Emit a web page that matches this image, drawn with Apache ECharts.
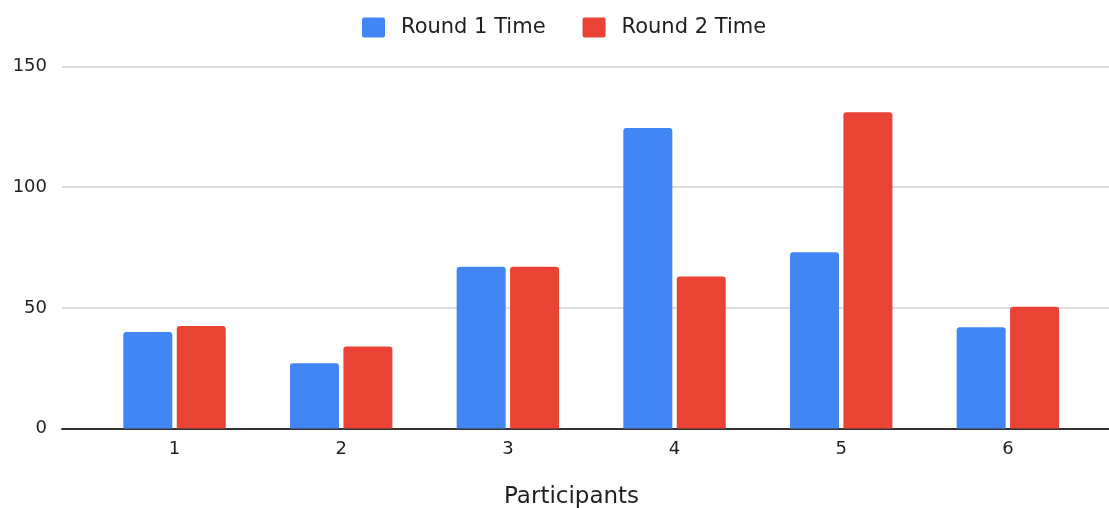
<!DOCTYPE html>
<html>
<head>
<meta charset="utf-8">
<script src="https://cdn.jsdelivr.net/npm/echarts@6/dist/echarts.min.js"></script>
<style>
  html, body { margin: 0; padding: 0; background: #ffffff; }
  #chart { width: 1109px; height: 508px; }
</style>
</head>
<body>
<div id="chart"></div>
<script>
// Participants and their completion times (seconds) in each round
const categories = ['1', '2', '3', '4', '5', '6'];
const round1Time = [40, 27, 67, 124.5, 73, 42];
const round2Time = [42.5, 34, 67, 63, 131, 50.5];
const yTicks = [0, 50, 100, 150];

const FONT = 'DejaVu Sans';
const yMin = yTicks[0];
const yMax = yTicks[yTicks.length - 1];
const yStep = yTicks[1] - yTicks[0];

// small-radius rounded square used as the legend swatch
const SWATCH = 'path://M2,0 H21 Q23,0 23,2 V18 Q23,20 21,20 H2 Q0,20 0,18 V2 Q0,0 2,0 Z';

const chart = echarts.init(document.getElementById('chart'), null, { renderer: 'canvas' });

chart.setOption({
  animation: false,
  backgroundColor: '#ffffff',
  color: ['#4285F4', '#EA4335'],
  legend: {
    left: 362,
    top: 17,
    padding: 0,
    itemWidth: 23,
    itemHeight: 20,
    itemGap: 37,
    icon: SWATCH,
    textStyle: {
      fontFamily: FONT,
      fontSize: 21,
      color: '#1f1f1f',
      padding: [0, 0, 0, 11]
    },
    data: ['Round 1 Time', 'Round 2 Time']
  },
  title: {
    text: 'Participants',
    left: 504,
    top: 486,
    padding: 0,
    textStyle: {
      fontFamily: FONT,
      fontSize: 23,
      fontWeight: 'normal',
      color: '#1f1f1f'
    }
  },
  grid: [
    // full-width frame: value axis labels, gridlines and baseline
    { left: 62, right: 0, top: 66.5, bottom: 79.5 },
    // bar area
    { left: 91.2, right: 17.8, top: 66.5, bottom: 79.5 }
  ],
  xAxis: [
    {
      gridIndex: 0,
      type: 'value',
      min: 0,
      max: 1,
      axisLine: { show: true, onZero: false, lineStyle: { color: '#333333', width: 2 } },
      axisTick: { show: false },
      axisLabel: { show: false },
      splitLine: { show: false }
    },
    {
      gridIndex: 1,
      type: 'category',
      data: categories,
      axisLine: { show: false },
      axisTick: { show: false },
      axisLabel: {
        margin: 12,
        fontFamily: FONT,
        fontSize: 18,
        color: '#1f1f1f'
      }
    }
  ],
  yAxis: [
    {
      gridIndex: 0,
      type: 'value',
      min: yMin,
      max: yMax,
      interval: yStep,
      axisLine: { show: false },
      axisTick: { show: false },
      axisLabel: {
        margin: 15,
        fontFamily: FONT,
        fontSize: 18,
        color: '#1f1f1f',
        padding: [2, 0, 0, 0]
      },
      splitLine: { lineStyle: { color: '#d0d0d0', width: 1.5 } }
    },
    {
      gridIndex: 1,
      type: 'value',
      min: yMin,
      max: yMax,
      interval: yStep,
      show: false,
      splitLine: { show: false }
    }
  ],
  series: [
    {
      name: 'Round 1 Time',
      type: 'bar',
      xAxisIndex: 1,
      yAxisIndex: 1,
      data: round1Time,
      barWidth: 49,
      barGap: '9%',
      itemStyle: { borderRadius: [3, 3, 0, 0] }
    },
    {
      name: 'Round 2 Time',
      type: 'bar',
      xAxisIndex: 1,
      yAxisIndex: 1,
      data: round2Time,
      barWidth: 49,
      barGap: '9%',
      itemStyle: { borderRadius: [3, 3, 0, 0] }
    }
  ]
});
</script>
</body>
</html>
